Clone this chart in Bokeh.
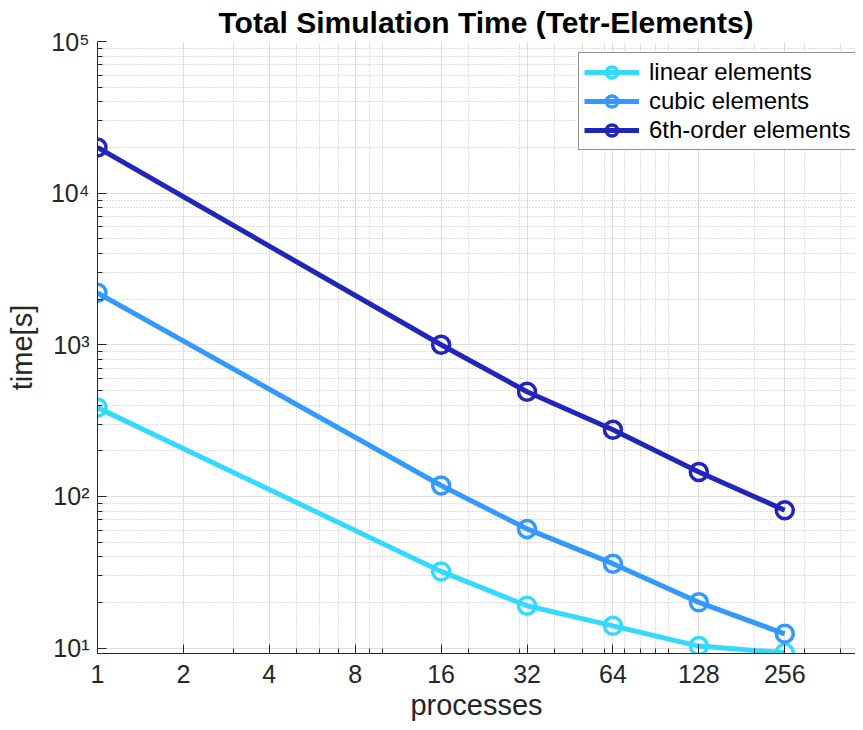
from bokeh.plotting import figure
from bokeh.models import FixedTicker, Range1d
from bokeh.embed import file_html
from bokeh.resources import INLINE

# ---- data ----
processes = [1, 16, 32, 64, 128, 256]
linear_time = [385, 32, 19, 14, 10.3, 9.3]
cubic_time = [2200, 118, 61, 36, 20, 12.4]
sixth_time = [20000, 1000, 490, 275, 145, 81]
series_names = ["linear elements", "cubic elements", "6th-order elements"]
series_colors = ["#33D9FF", "#3399FF", "#2125BA"]

x_major = [1, 2, 4, 8, 16, 32, 64, 128, 256]
x_minor = [3, 5, 6, 7, 9, 10, 20, 30, 40, 50, 60, 70, 80, 90, 100, 200, 300, 400]
y_major = [10, 100, 1000, 10000, 100000]
y_minor = [m * 10 ** k for k in range(1, 5) for m in range(2, 10)]
y_labels = {10: "10¹", 100: "10²", 1000: "10³", 10000: "10⁴", 100000: "10⁵"}

FONT = "Liberation Sans"
DARK = "#262626"

p = figure(width=855, height=730, x_axis_type="log", y_axis_type="log",
           x_range=Range1d(1, 453), y_range=Range1d(9.2, 1e5),
           output_backend="svg", toolbar_location=None,
           min_border_left=97, min_border_right=0, min_border_top=41, min_border_bottom=77,
           title="Total Simulation Time (Tetr-Elements)")
p.outline_line_color = None
p.background_fill_color = "white"
p.border_fill_color = "white"

p.title.text_font = FONT
p.title.text_font_size = "30px"
p.title.text_font_style = "bold"
p.title.text_color = "black"
p.title.align = "left"
p.title.offset = 121
p.title.standoff = 5

p.xaxis.ticker = FixedTicker(ticks=x_major, minor_ticks=x_minor)
p.yaxis.ticker = FixedTicker(ticks=y_major, minor_ticks=y_minor)
p.xaxis.major_label_overrides = {v: str(v) for v in x_major}
p.yaxis.major_label_overrides = y_labels

for ax in (p.xaxis, p.yaxis):
    ax.axis_line_color = DARK
    ax.axis_line_width = 1
    ax.major_tick_line_color = DARK
    ax.minor_tick_line_color = DARK
    ax.major_tick_in = 9
    ax.major_tick_out = 0
    ax.minor_tick_in = 5
    ax.minor_tick_out = 0
    ax.major_label_text_font = FONT
    ax.major_label_text_font_size = "25px"
    ax.major_label_text_color = DARK
    ax.axis_label_text_font = FONT
    ax.axis_label_text_font_size = "29px"
    ax.axis_label_text_font_style = "normal"
    ax.axis_label_text_color = DARK

p.xaxis.axis_label = "processes"
p.yaxis.axis_label = "time[s]"
p.xaxis.major_label_standoff = 11
p.yaxis.major_label_standoff = 8
p.xaxis.axis_label_standoff = 3
p.yaxis.axis_label_standoff = 10

for g in (p.xgrid, p.ygrid):
    g.grid_line_color = "#DEDEDE"
    g.grid_line_width = 1
    g.minor_grid_line_color = "#BDBDBD"
    g.minor_grid_line_dash = "1 2"
    g.minor_grid_line_width = 1

for ys, name, col in zip([linear_time, cubic_time, sixth_time], series_names, series_colors):
    p.line(processes, ys, line_width=5, line_color=col, legend_label=name)
    p.scatter(processes, ys, marker="circle", size=17, fill_color=None,
              line_color=col, line_width=3.5, legend_label=name)

lg = p.legend[0]
lg.location = (481, 503)
lg.label_text_font = FONT
lg.label_text_font_size = "24px"
lg.label_text_color = "black"
lg.glyph_width = 55
lg.glyph_height = 28
lg.label_height = 28
lg.label_standoff = 10
lg.padding = 5
lg.spacing = 1
lg.margin = 0
lg.border_line_color = DARK
lg.border_line_width = 1
lg.background_fill_color = "white"
lg.background_fill_alpha = 1

open("out.html", "w").write(file_html(p, INLINE))
